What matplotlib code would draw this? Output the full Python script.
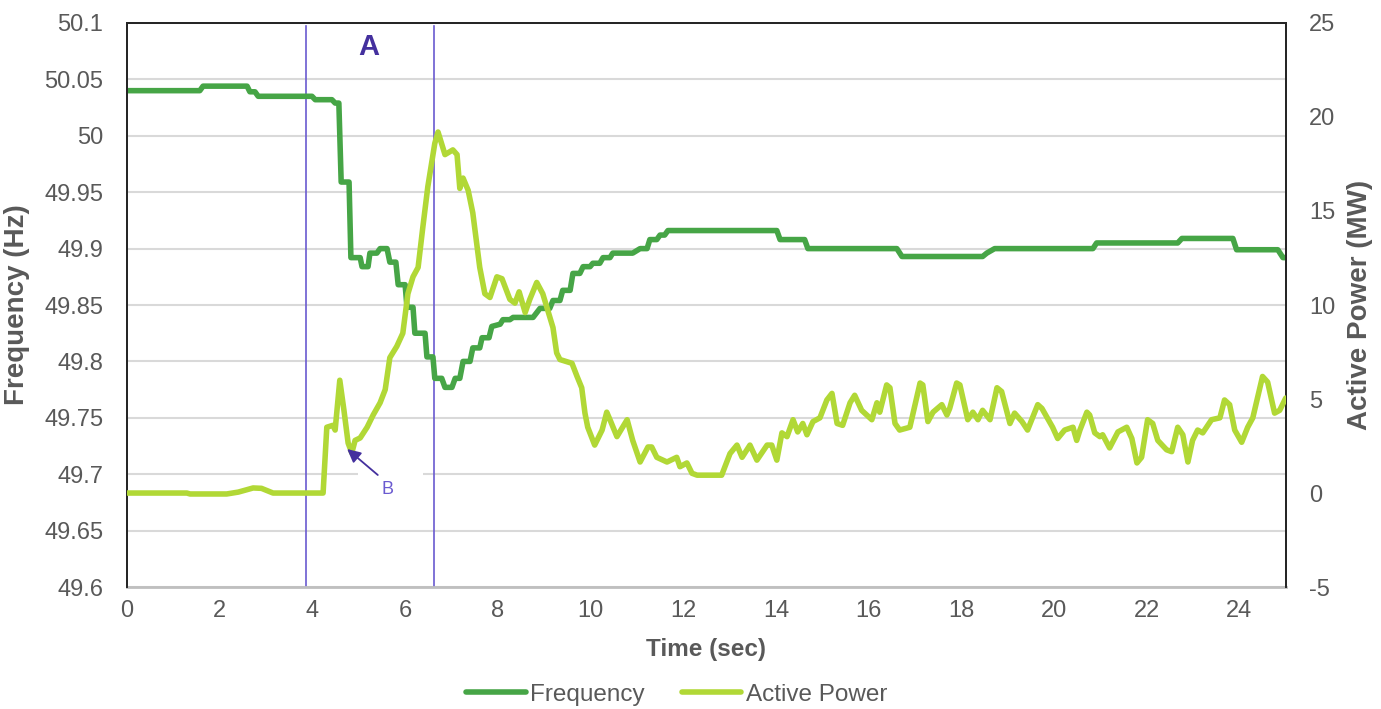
import matplotlib.pyplot as plt
from matplotlib.patches import Rectangle

plt.rcParams['font.family'] = ['Liberation Sans', 'DejaVu Sans']
plt.rcParams['axes.unicode_minus'] = False

# --- data ---
t_freq = [0, 1.57, 1.64, 2.59, 2.65, 2.76, 2.83, 3.99, 4.06, 4.42, 4.49, 4.57,
          4.62, 4.79, 4.83, 5.03, 5.07, 5.20, 5.24, 5.39, 5.46, 5.61, 5.67, 5.80,
          5.85, 6.00, 6.04, 6.17, 6.21, 6.43, 6.47, 6.60, 6.64, 6.79, 6.86, 7.01,
          7.08, 7.18, 7.25, 7.40, 7.46, 7.61, 7.66, 7.81, 7.87, 8.05, 8.11, 8.26,
          8.33, 8.76, 8.91, 9.12, 9.19, 9.34, 9.40, 9.56, 9.62, 9.77, 9.84, 9.99,
          10.05, 10.20, 10.27, 10.42, 10.48, 10.91, 11.07, 11.22, 11.28, 11.43,
          11.50, 11.60, 11.67, 14.02, 14.09, 14.62, 14.69, 16.61, 16.72, 18.46,
          18.55, 18.72, 20.84, 20.92, 22.67, 22.76, 23.86, 23.94, 24.83, 24.94, 25.0]
freq = [50.040, 50.040, 50.044, 50.044, 50.039, 50.039, 50.035, 50.035, 50.032,
        50.032, 50.029, 50.029, 49.959, 49.959, 49.892, 49.892, 49.884, 49.884,
        49.896, 49.896, 49.900, 49.900, 49.888, 49.888, 49.868, 49.868, 49.848,
        49.848, 49.825, 49.825, 49.804, 49.804, 49.785, 49.785, 49.777, 49.777,
        49.785, 49.785, 49.800, 49.800, 49.812, 49.812, 49.821, 49.821, 49.831,
        49.833, 49.837, 49.837, 49.839, 49.839, 49.847, 49.847, 49.854, 49.854,
        49.863, 49.863, 49.878, 49.878, 49.884, 49.884, 49.887, 49.887, 49.892,
        49.892, 49.896, 49.896, 49.900, 49.900, 49.908, 49.908, 49.912, 49.912,
        49.916, 49.916, 49.908, 49.908, 49.900, 49.900, 49.893, 49.893, 49.896,
        49.900, 49.900, 49.905, 49.905, 49.909, 49.909, 49.899, 49.899, 49.892,
        49.892]

t_pow = [0, 1.29, 1.36, 2.15, 2.4, 2.72, 2.9, 3.15, 4.23, 4.31, 4.44, 4.49, 4.59,
         4.68, 4.77, 4.85, 4.92, 5.03, 5.18, 5.31, 5.46, 5.57, 5.67, 5.82, 5.95,
         6.06, 6.17, 6.28, 6.38, 6.49, 6.64, 6.71, 6.86, 7.03, 7.12, 7.18, 7.25,
         7.36, 7.46, 7.61, 7.72, 7.83, 7.98, 8.09, 8.26, 8.37, 8.46, 8.59, 8.69,
         8.84, 8.97, 9.19, 9.27, 9.34, 9.60, 9.71, 9.81, 9.88, 9.94, 10.09, 10.25,
         10.35, 10.42, 10.57, 10.79, 10.91, 11.07, 11.24, 11.32, 11.43, 11.65,
         11.86, 11.93, 12.08, 12.19, 12.30, 12.83, 13.01, 13.16, 13.27, 13.44,
         13.59, 13.81, 13.91, 14.02, 14.13, 14.24, 14.37, 14.47, 14.58, 14.67,
         14.80, 14.95, 15.10, 15.21, 15.32, 15.44, 15.60, 15.70, 15.85, 16.07,
         16.18, 16.24, 16.39, 16.46, 16.57, 16.67, 16.89, 17.11, 17.17, 17.28,
         17.39, 17.58, 17.69, 17.75, 17.90, 17.97, 18.14, 18.25, 18.36, 18.46,
         18.62, 18.77, 18.87, 19.05, 19.15, 19.31, 19.43, 19.65, 19.74, 19.97,
         20.08, 20.23, 20.41, 20.49, 20.56, 20.71, 20.77, 20.88, 20.99, 21.05,
         21.20, 21.38, 21.57, 21.68, 21.79, 21.89, 22.02, 22.13, 22.24, 22.43,
         22.54, 22.67, 22.78, 22.89, 22.99, 23.10, 23.21, 23.40, 23.58, 23.68,
         23.79, 23.90, 24.05, 24.18, 24.29, 24.50, 24.61, 24.76, 24.87, 25.0]
power = [0, 0, -0.05, -0.05, 0.05, 0.27, 0.25, 0.0, 0.0, 3.5, 3.6, 3.35, 6.0,
         4.4, 2.66, 2.13, 2.8, 2.93, 3.5, 4.15, 4.8, 5.5, 7.2, 7.8, 8.5, 10.6,
         11.5, 12.0, 14.1, 16.3, 18.6, 19.2, 18.0, 18.25, 18.0, 16.2, 16.75,
         16.1, 14.9, 12.0, 10.6, 10.4, 11.5, 11.4, 10.3, 10.1, 10.7, 9.6, 10.3,
         11.2, 10.6, 8.8, 7.45, 7.1, 6.9, 6.2, 5.6, 4.25, 3.5, 2.55, 3.35, 4.3,
         3.9, 3.0, 3.9, 2.8, 1.65, 2.45, 2.45, 1.9, 1.65, 1.9, 1.4, 1.6, 1.05,
         0.95, 0.95, 2.1, 2.55, 1.9, 2.55, 1.75, 2.55, 2.55, 1.75, 3.2, 3.0, 3.9,
         3.25, 3.7, 3.1, 3.8, 4.0, 4.95, 5.3, 3.7, 3.6, 4.8, 5.2, 4.4, 3.9, 4.8,
         4.3, 5.75, 5.6, 3.7, 3.35, 3.5, 5.85, 5.75, 3.8, 4.3, 4.7, 4.15, 4.5,
         5.85, 5.75, 3.9, 4.3, 3.9, 4.4, 3.9, 5.6, 5.4, 3.7, 4.25, 3.8, 3.35,
         4.7, 4.5, 3.5, 2.9, 3.35, 3.5, 2.8, 3.35, 4.3, 4.15, 3.2, 3.0, 3.1, 2.4,
         3.25, 3.5, 2.9, 1.6, 1.9, 3.9, 3.7, 2.8, 2.3, 2.2, 3.5, 3.1, 1.65, 2.8,
         3.35, 3.2, 3.9, 4.0, 4.95, 4.7, 3.35, 2.7, 3.5, 4.0, 6.2, 5.9, 4.25,
         4.4, 5.05]

event_lines = [3.86, 6.63]
freq_ticks = [49.6, 49.65, 49.7, 49.75, 49.8, 49.85, 49.9, 49.95, 50, 50.05, 50.1]
freq_labels = ['49.6', '49.65', '49.7', '49.75', '49.8', '49.85', '49.9',
               '49.95', '50', '50.05', '50.1']
pow_ticks = [-5, 0, 5, 10, 15, 20, 25]
time_ticks = list(range(0, 25, 2))

FREQ_COL = '#46A546'
POW_COL = '#B1D836'
GREY = '#595959'
PURPLE = '#6A5AD0'
DARK_PURPLE = '#44309E'

fig = plt.figure(figsize=(13.81, 7.09), dpi=100)
ax = fig.add_axes([0.092, 0.172, 0.839, 0.7956])
ax2 = ax.twinx()

# grid + frame
ax.set_axisbelow(True)
ax.yaxis.grid(True, color='#D9D9D9', lw=1.5)
for a in (ax, ax2):
    for side in ['top', 'left', 'right']:
        a.spines[side].set_color('#262626')
        a.spines[side].set_linewidth(1.4)
ax.spines['bottom'].set_color('#BFBFBF')
ax.spines['bottom'].set_linewidth(2)
ax2.spines['bottom'].set_visible(False)

# event lines
for x in event_lines:
    ax.axvline(x, color=PURPLE, lw=1.2, ymax=0.995, zorder=2)

freq_line, = ax.plot(t_freq, freq, color=FREQ_COL, lw=4.0,
                     solid_joinstyle='round', solid_capstyle='round', zorder=3)
pow_line, = ax2.plot(t_pow, power, color=POW_COL, lw=4.0,
                     solid_joinstyle='round', solid_capstyle='round', zorder=3)

ax.set_xlim(0, 25)
ax.set_ylim(49.6, 50.1)
ax2.set_ylim(-5, 25)
ax.set_xticks(time_ticks)
ax.set_yticks(freq_ticks)
ax.set_yticklabels(freq_labels)
ax2.set_yticks(pow_ticks)

ax.tick_params(axis='both', length=0, labelsize=17, labelcolor=GREY)
ax.tick_params(axis='y', pad=17)
ax.tick_params(axis='x', pad=9)
ax2.tick_params(axis='y', length=0, labelsize=17, labelcolor=GREY, pad=17)

ax.set_xlabel('Time (sec)', fontsize=17.5, fontweight='bold', color=GREY, labelpad=12)
ax.set_ylabel('Frequency (Hz)', fontsize=20, fontweight='bold', color=GREY, labelpad=10)
ax2.set_ylabel('Active Power (MW)', fontsize=20, fontweight='bold', color=GREY,
               labelpad=8)

# annotations
ax.text(5.22, 50.079, 'A', fontsize=21, fontweight='bold', color=DARK_PURPLE,
        ha='center', va='center')
# the label box of "B" hides a piece of the 49.7 grid line
ax.add_patch(Rectangle((4.98, 49.695), 1.4, 0.01, fc='white', ec='none', zorder=1))
ax2.text(5.61, 0.2, 'B', fontsize=13, color=PURPLE, ha='center', va='center')
ax2.annotate('', xy=(4.75, 2.34), xytext=(5.41, 0.96),
             arrowprops=dict(arrowstyle='-|>', mutation_scale=20, lw=1.3,
                             color=DARK_PURPLE, shrinkA=0, shrinkB=0))

fig.legend([freq_line, pow_line], ['Frequency', 'Active Power'], loc='center',
           bbox_to_anchor=(0.490, 0.02), ncol=2, frameon=False, fontsize=17.5,
           handlelength=2.45, columnspacing=1.5, handletextpad=0.2,
           labelcolor=GREY)

fig.savefig('out.png', dpi=100)
